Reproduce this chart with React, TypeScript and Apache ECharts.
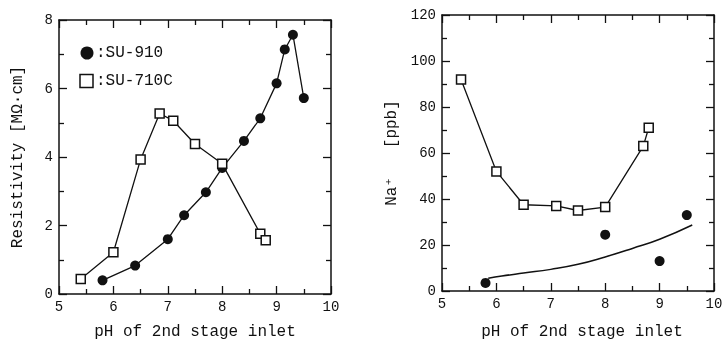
import React, { useEffect, useRef } from "react";
import * as echarts from "echarts";

// Left panel: resistivity vs pH
const su910Left: [number, number][] = [
  [5.8, 0.4], [6.4, 0.83], [7.0, 1.6], [7.3, 2.3], [7.7, 2.97], [8.0, 3.68],
  [8.4, 4.47], [8.7, 5.13], [9.0, 6.15], [9.15, 7.14], [9.3, 7.57], [9.5, 5.72],
];
const su710cLeft: [number, number][] = [
  [5.4, 0.44], [6.0, 1.22], [6.5, 3.93], [6.85, 5.27], [7.1, 5.06],
  [7.5, 4.38], [8.0, 3.8], [8.7, 1.76], [8.8, 1.57],
];

// Right panel: Na+ vs pH
const su710cRight: [number, number][] = [
  [5.35, 92], [6.0, 52], [6.5, 37.5], [7.1, 37], [7.5, 35], [8.0, 36.5], [8.7, 63], [8.8, 71],
];
const su910Right: [number, number][] = [
  [5.8, 3.5], [8.0, 24.5], [9.0, 13], [9.5, 33],
];
const trendRight: [number, number][] = [
  [5.85, 5.5], [6.1, 6.5], [6.5, 7.8], [7.0, 9.4], [7.5, 11.6], [8.0, 14.8],
  [8.5, 18.5], [9.0, 22.5], [9.6, 28.7],
];

const xTitle = "pH of 2nd stage inlet";
const leftYTitle = "Resistivity [MΩ·cm]";
const rightYTitle = "Na⁺   [ppb]";
const legendNames = ["SU-910", "SU-710C"];

const xTicks = { min: 5, max: 10, interval: 1 };
const leftY = { min: 0, max: 8, interval: 2 };
const rightY = { min: 0, max: 120, interval: 20 };

const FONT = "Liberation Mono, DejaVu Sans Mono, monospace";
const BLACK = "#111";

function axisBase(extra: any) {
  return {
    type: "value",
    splitLine: { show: false },
    axisLine: { show: true, onZero: false, lineStyle: { color: BLACK, width: 1.5 } },
    axisTick: { show: true, inside: true, length: 8, lineStyle: { color: BLACK, width: 1.3 } },
    minorTick: { show: true, splitNumber: 2, length: 5, lineStyle: { color: BLACK, width: 1.3 } },
    axisLabel: { show: true, color: BLACK, fontFamily: FONT, fontSize: 14, margin: 6 },
    ...extra,
  };
}

function label(text: string, x: number, y: number, rotation = 0, align = "center") {
  return {
    type: "text",
    x,
    y,
    rotation,
    style: {
      text,
      fill: BLACK,
      fontFamily: FONT,
      fontSize: 16,
      align,
      verticalAlign: "middle",
    },
  };
}

export default function App() {
  const ref = useRef<HTMLDivElement>(null);
  useEffect(() => {
    if (!ref.current) return;
    const chart = echarts.init(ref.current, undefined, { renderer: "svg" });
    const hidden = { axisLabel: { show: false } };
    const option: any = {
      animation: false,
      grid: [
        { left: 59, top: 20, width: 272, height: 274, outerBoundsMode: "none", containLabel: false },
        { left: 442, top: 15, width: 272, height: 276, outerBoundsMode: "none", containLabel: false },
      ],
      graphic: [
        label(xTitle, 195, 332),
        label(xTitle, 582, 332),
        label(leftYTitle, 18, 157, Math.PI / 2),
        label(rightYTitle, 392, 153, Math.PI / 2),
        { type: "circle", shape: { cx: 87, cy: 53, r: 6.5 }, style: { fill: BLACK } },
        label(":" + legendNames[0], 96, 53, 0, "left"),
        { type: "rect", shape: { x: 80, y: 74.5, width: 13, height: 13 }, style: { fill: "#fff", stroke: BLACK, lineWidth: 1.5 } },
        label(":" + legendNames[1], 96, 81, 0, "left"),
      ],
      xAxis: [
        axisBase({ gridIndex: 0, position: "bottom", ...xTicks }),
        axisBase({ gridIndex: 0, position: "top", ...xTicks, ...hidden }),
        axisBase({ gridIndex: 1, position: "bottom", ...xTicks }),
        axisBase({ gridIndex: 1, position: "top", ...xTicks, ...hidden }),
      ],
      yAxis: [
        axisBase({ gridIndex: 0, position: "left", ...leftY }),
        axisBase({ gridIndex: 0, position: "right", ...leftY, ...hidden }),
        axisBase({ gridIndex: 1, position: "left", ...rightY }),
        axisBase({ gridIndex: 1, position: "right", ...rightY, ...hidden }),
      ],
      series: [
        {
          name: legendNames[0], type: "line", xAxisIndex: 0, yAxisIndex: 0, data: su910Left,
          symbol: "circle", symbolSize: 10,
          itemStyle: { color: BLACK, borderWidth: 0 },
          lineStyle: { color: BLACK, width: 1.3 },
        },
        {
          name: legendNames[1], type: "line", xAxisIndex: 0, yAxisIndex: 0, data: su710cLeft,
          symbol: "rect", symbolSize: 9,
          itemStyle: { color: "#fff", borderColor: BLACK, borderWidth: 1.5 },
          lineStyle: { color: BLACK, width: 1.3 },
        },
        {
          name: "trend", type: "line", xAxisIndex: 2, yAxisIndex: 2, data: trendRight,
          smooth: true, showSymbol: false, symbol: "none",
          lineStyle: { color: BLACK, width: 1.5 },
        },
        {
          name: "SU-910 Na", type: "scatter", xAxisIndex: 2, yAxisIndex: 2, data: su910Right,
          symbol: "circle", symbolSize: 10,
          itemStyle: { color: BLACK, borderWidth: 0, opacity: 1 },
        },
        {
          name: "SU-710C Na", type: "line", xAxisIndex: 2, yAxisIndex: 2, data: su710cRight,
          symbol: "rect", symbolSize: 9,
          itemStyle: { color: "#fff", borderColor: BLACK, borderWidth: 1.5 },
          lineStyle: { color: BLACK, width: 1.3 },
        },
      ],
    };
    chart.setOption(option);
    return () => chart.dispose();
  }, []);
  return <div ref={ref} style={{ position: "fixed", left: 0, top: 0, width: 724, height: 341 }} />;
}
